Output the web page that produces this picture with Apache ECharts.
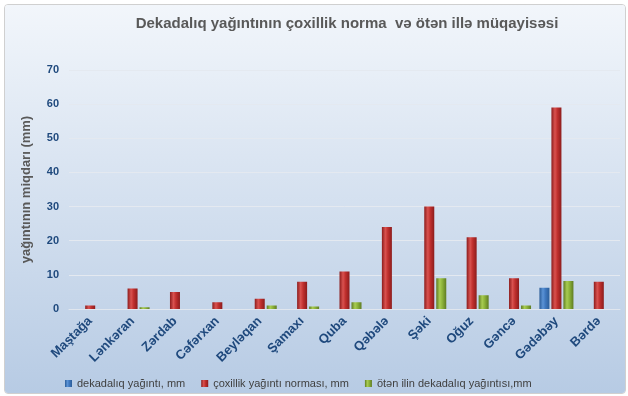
<!DOCTYPE html>
<html>
<head>
<meta charset="utf-8">
<script src="https://cdn.jsdelivr.net/npm/echarts@6/dist/echarts.min.js"></script>
<style>
html, body { margin: 0; padding: 0; background: #fff; }
#chart { position: absolute; left: 4px; top: 4px; width: 620px; height: 388px;
  border: 1px solid #d0d0d0; border-radius: 4px; overflow: hidden; }
</style>
</head>
<body>
<div id="chart"></div>
<script>
var stations = ['Maştağa', 'Lənkəran', 'Zərdab', 'Cəfərxan', 'Beyləqan', 'Şamaxı', 'Quba',
	'Qəbələ', 'Şəki', 'Oğuz', 'Gəncə', 'Gədəbəy', 'Bərdə'];
var dekada = [0, 0, 0, 0, 0, 0, 0, 0, 0, 0, 0, 6.2, 0];
var norma = [1, 6, 5, 2, 3, 8, 11, 24, 30, 21, 9, 59, 8];
var otenIl = [0, 0.5, 0, 0, 1, 0.7, 2, 0, 9, 4, 1, 8.2, 0];

function cyl(dark, mid, light) {
	return {
		type: 'linear', x: 0, y: 0, x2: 1, y2: 0,
		colorStops: [
			{ offset: 0, color: dark },
			{ offset: 0.35, color: light },
			{ offset: 0.6, color: mid },
			{ offset: 1, color: dark }
		]
	};
}

var myChart = echarts.init(document.getElementById('chart'));

var option = {
	backgroundColor: {
		type: 'linear', x: 0, y: 0, x2: 0, y2: 1,
		colorStops: [
			{ offset: 0, color: '#f2f6fb' },
			{ offset: 1, color: '#b7cbe4' }
		]
	},
	textStyle: { fontFamily: 'Arial, "Liberation Sans", sans-serif' },
	title: {
		text: 'Dekadalıq yağıntının çoxillik norma  və ötən illə müqayisəsi',
		left: 337, top: 6, textAlign: 'center',
		textStyle: { color: '#595959', fontSize: 15, fontWeight: 'bold' }
	},
	legend: {
		left: 55, top: 368,
		itemWidth: 7, itemHeight: 7, itemGap: 16,
		icon: 'rect',
		textStyle: { color: '#404040', fontSize: 11 },
		data: ['dekadalıq yağıntı, mm', 'çoxillik yağıntı norması, mm', 'ötən ilin dekadalıq yağıntısı,mm']
	},
	grid: { left: 64, right: 5, top: 65, bottom: 84 },
	xAxis: {
		type: 'category',
		data: stations,
		axisLine: { lineStyle: { color: '#e0e6ee' } },
		axisTick: { show: false },
		axisLabel: {
			interval: 0, rotate: 45, margin: 10,
			color: '#1f497d', fontSize: 13, fontWeight: 'bold'
		}
	},
	yAxis: {
		type: 'value',
		min: 0, max: 70, interval: 10,
		name: 'yağıntının miqdarı (mm)',
		nameLocation: 'middle', nameGap: 36, nameRotate: 90,
		nameTextStyle: { color: '#595959', fontSize: 13, fontWeight: 'bold' },
		axisLine: { show: false },
		axisTick: { show: false },
		axisLabel: { color: '#1f497d', fontSize: 11, fontWeight: 'bold', margin: 10 },
		splitLine: { lineStyle: { color: '#e4e9f0' } }
	},
	series: [{
		name: 'dekadalıq yağıntı, mm',
		type: 'bar',
		barWidth: 10,
		barGap: '20%',
		itemStyle: { color: cyl('#2c5d98', '#3f78bf', '#5b93d6') },
		data: dekada
	}, {
		name: 'çoxillik yağıntı norması, mm',
		type: 'bar',
		barWidth: 10,
		barGap: '20%',
		itemStyle: { color: cyl('#8c1c1c', '#c0302e', '#d9524f') },
		data: norma
	}, {
		name: 'ötən ilin dekadalıq yağıntısı,mm',
		type: 'bar',
		barWidth: 10,
		barGap: '20%',
		itemStyle: { color: cyl('#5f7c22', '#8db33a', '#a8cc52') },
		data: otenIl
	}]
};
myChart.setOption(option);
</script>
</body>
</html>
